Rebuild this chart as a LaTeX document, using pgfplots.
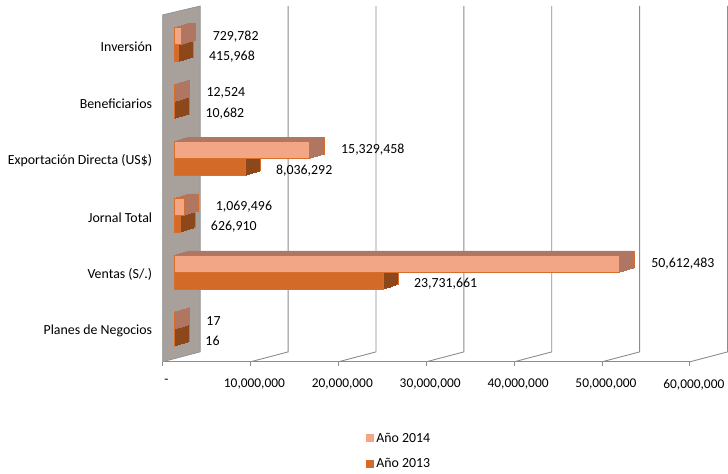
\documentclass[border=0pt]{standalone}
\usepackage{pgfplots}
\pgfplotsset{compat=1.18}
\usepackage{pgfplotstable}
\usepackage{fontspec}
\setmainfont{Carlito}
\definecolor{c14}{RGB}{243,166,134}
\definecolor{c13}{RGB}{212,106,40}
\definecolor{d14}{RGB}{176,118,98}
\definecolor{d13}{RGB}{140,72,26}
\definecolor{edge}{RGB}{217,110,44}
\definecolor{wallc}{RGB}{168,160,154}
\definecolor{gridc}{RGB}{140,140,140}
\pgfplotstableread{
y v14 l14 v13 l13
0 17 17 16 16
1 50612483 50,612,483 23731661 23,731,661
2 1069496 1,069,496 626910 626,910
3 15329458 15,329,458 8036292 8,036,292
4 12524 12,524 10682 10,682
5 729782 729,782 415968 415,968
}\datatab
\begin{document}
\begin{tikzpicture}
\begin{axis}[
 width=532bp, height=359bp, scale only axis,
 xmin=0, xmax=60000000, ymin=-0.54, ymax=5.714,
 clip=false,
 scaled x ticks=false,
 axis x line*=bottom, axis y line*=left,
 x axis line style={draw=gridc, line width=0.8bp, -},
 y axis line style={draw=none},
 xtick={0,10000000,20000000,30000000,40000000,50000000,60000000},
 xticklabels={-,{10,000,000},{20,000,000},{30,000,000},{40,000,000},{50,000,000},{60,000,000}},
 x tick style={draw=gridc, line width=0.8bp},
 major tick length=4bp, tick align=outside,
 ytick={0,1,2,3,4,5}, y tick style={draw=none},
 yticklabels={Planes de Negocios,Ventas (S/.),Jornal Total,Exportación Directa (US\$),Beneficiarios,Inversión},
 yticklabel style={xshift=-3bp, font=\fontsize{14bp}{16bp}\selectfont},
 xticklabel style={yshift=-10bp, xshift=4bp, font=\fontsize{13.5bp}{16bp}\selectfont},
 bar width=17bp,
 point meta=explicit symbolic,
 legend style={at={(0.449,-0.251)}, anchor=center, draw=none, fill=none, row sep=11bp, font=\fontsize{14bp}{16bp}\selectfont},
 legend cell align=left,
 legend image code/.code={\fill[#1] (0bp,-4bp) rectangle (8bp,4bp);},
]
% back wall
\addplot[forget plot, fill=wallc, draw=gridc, line width=0.6bp] coordinates {(0,5.557) (4286000,5.714) (4286000,-0.366) (0,-0.54)} -- cycle;
% grid lines
\addplot[forget plot, gridc, line width=0.9bp] coordinates {(14286000,5.714) (14286000,-0.366) (10000000,-0.54)};
\addplot[forget plot, gridc, line width=0.9bp] coordinates {(24286000,5.714) (24286000,-0.366) (20000000,-0.54)};
\addplot[forget plot, gridc, line width=0.9bp] coordinates {(34286000,5.714) (34286000,-0.366) (30000000,-0.54)};
\addplot[forget plot, gridc, line width=0.9bp] coordinates {(44286000,5.714) (44286000,-0.366) (40000000,-0.54)};
\addplot[forget plot, gridc, line width=0.9bp] coordinates {(54286000,5.714) (54286000,-0.366) (50000000,-0.54)};
\addplot[forget plot, gridc, line width=0.9bp] coordinates {(64286000,5.714) (64286000,-0.366) (60000000,-0.54)};
% 2013 bars (lower)
\addplot[xbar, forget plot, bar shift=-8.5bp, fill=d13, draw=edge, line width=0.6bp, xshift=27bp, yshift=6.5bp] table[x=v13,y=y]{\datatab};
\pgfplotsinvokeforeach{1,...,14}{
\addplot[xbar, forget plot, bar shift=-8.5bp, fill=d13, draw=d13, line width=0.9bp, xshift={12bp+1bp*#1}, yshift={2bp+0.3bp*#1}] table[x=v13,y=y]{\datatab};
}
\addplot[xbar, forget plot, bar shift=-8.5bp, fill=c13, draw=edge, line width=0.6bp, xshift=12bp, yshift=2bp,
 nodes near coords, every node near coord/.append style={anchor=west, inner sep=0pt, xshift=31bp, yshift=-12bp, text=black, font=\fontsize{14bp}{16bp}\selectfont}] table[x=v13,y=y,meta=l13]{\datatab};
% 2014 bars (upper)
\addplot[xbar, forget plot, bar shift=8.5bp, fill=d14, draw=edge, line width=0.6bp, xshift=27bp, yshift=6.5bp] table[x=v14,y=y]{\datatab};
\pgfplotsinvokeforeach{1,...,14}{
\addplot[xbar, forget plot, bar shift=8.5bp, fill=d14, draw=d14, line width=0.9bp, xshift={12bp+1bp*#1}, yshift={2bp+0.3bp*#1}] table[x=v14,y=y]{\datatab};
}
\addplot[xbar, forget plot, bar shift=8.5bp, fill=c14, draw=edge, line width=0.6bp, xshift=12bp, yshift=2bp,
 nodes near coords, every node near coord/.append style={anchor=west, inner sep=0pt, xshift=32bp, yshift=8.5bp, text=black, font=\fontsize{14bp}{16bp}\selectfont}] table[x=v14,y=y,meta=l14]{\datatab};
\addlegendimage{fill=c14, draw=none}
\addlegendentry{Año 2014}
\addlegendimage{fill=c13, draw=none}
\addlegendentry{Año 2013}
\end{axis}
\useasboundingbox (-164bp,-106bp) rectangle (564bp,365bp);
\end{tikzpicture}
\end{document}
